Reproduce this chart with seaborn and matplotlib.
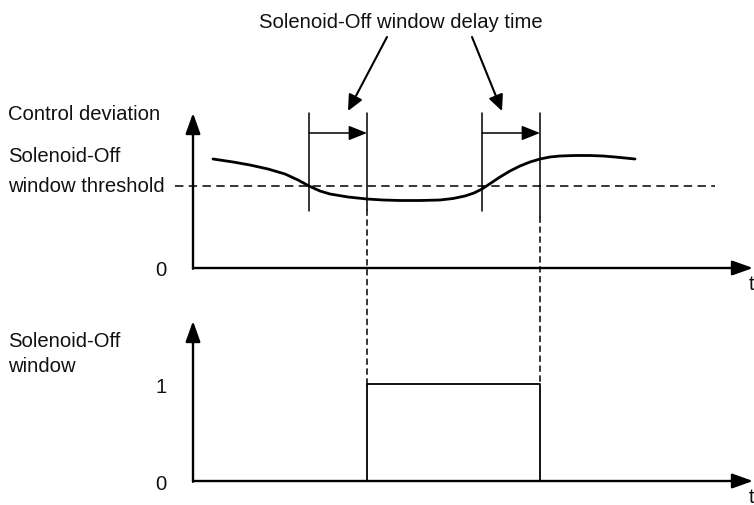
import matplotlib
matplotlib.use("Agg")
import matplotlib.pyplot as plt
from matplotlib.patches import ConnectionPatch
import numpy as np
import pandas as pd
import seaborn as sns

# ---- signal data -----------------------------------------------------------
time = [2.0, 4.0, 5.7, 7.5, 9.2, 10.5, 11.6, 12.7, 13.7, 15.5, 17.4, 19.0, 20.7,
        22.7, 24.7, 26.0, 27.2, 28.1, 28.9, 29.8, 30.7, 31.7, 32.7, 33.7, 34.7,
        35.7, 36.7, 38.2, 39.7, 41.0, 42.2, 43.2, 44.2]
deviation = [10.9, 10.6, 10.3, 9.9, 9.4, 8.8, 8.2, 7.7, 7.4, 7.1, 6.9, 6.8, 6.75,
             6.75, 6.8, 6.95, 7.2, 7.5, 7.9, 8.5, 9.1, 9.7, 10.2, 10.6, 10.9,
             11.1, 11.2, 11.25, 11.25, 11.2, 11.1, 11.0, 10.9]
threshold = 8.2
threshold_span = [-1.8, 52.2]

# threshold crossings and the delayed window edges
crossings = [11.6, 28.9]
delay = 5.8
window_edges = [crossings[0] + delay, crossings[1] + delay]   # on, off
window_state = [0, 1, 1, 0]

t_max = 56.0
top_ylim = 15.5
bottom_ylim = 1.65

W, H = 754, 506


def fig_xy(x, y):
    return x / W, 1 - y / H


sns.set_theme(style="white")
plt.rcParams["font.family"] = ["Liberation Sans", "DejaVu Sans"]
plt.rcParams["text.color"] = "#111111"
plt.rcParams["ytick.color"] = "#111111"
FS = 14.6

fig = plt.figure(figsize=(W / 100, H / 100), dpi=100)
ax_top = fig.add_axes([193 / W, 1 - 269 / H, (753 - 193) / W, (269 - 114) / H])
ax_bot = fig.add_axes([193 / W, 1 - 482 / H, (753 - 193) / W, (482 - 322) / H])

for ax, ymax in ((ax_top, top_ylim), (ax_bot, bottom_ylim)):
    ax.set_xlim(0, t_max)
    ax.set_ylim(0, ymax)
    for s in ax.spines.values():
        s.set_visible(False)
    ax.set_xticks([])
    ax.patch.set_alpha(0)
    arrow = dict(arrowstyle="-|>,head_length=0.7,head_width=0.25", lw=1.7,
                 color="black", shrinkA=0, shrinkB=0, mutation_scale=18)
    ax.annotate("", xy=(t_max, 0), xytext=(0, 0), arrowprops=arrow,
                annotation_clip=False)
    ax.annotate("", xy=(0, ymax), xytext=(0, -0.005 * ymax), arrowprops=arrow,
                annotation_clip=False)
    ax.tick_params(axis="y", length=0, pad=19, labelsize=FS)

ax_top.set_yticks([0])
ax_top.set_yticklabels(["0"])
ax_bot.set_yticks([0, 1])
ax_bot.set_yticklabels(["0", "1"])

# control deviation curve
df = pd.DataFrame({"t": time, "dev": deviation})
sns.lineplot(data=df, x="t", y="dev", ax=ax_top, color="black", lw=2.0,
             sort=False, estimator=None)
ax_top.set_xlabel("")
ax_top.set_ylabel("")

# threshold
ax_top.plot(threshold_span, [threshold, threshold], color="black", lw=1.1,
            dashes=(5.5, 3.5), clip_on=False)

# delay-time markers
marker_top = top_ylim
marker_low = [5.7, 5.8, 5.7, 5.1]
marker_t = [crossings[0], window_edges[0], crossings[1], window_edges[1]]
for t, lo in zip(marker_t, marker_low):
    ax_top.plot([t, t], [lo, marker_top], color="black", lw=1.1, clip_on=False)

delay_arrow = dict(arrowstyle="-|>,head_length=0.7,head_width=0.28", lw=1.1,
                   color="black", shrinkA=0, shrinkB=0, mutation_scale=16)
for start, end in zip(crossings, window_edges):
    ax_top.annotate("", xy=(end, 13.5), xytext=(start, 13.5),
                    arrowprops=delay_arrow, annotation_clip=False)

# window output
pulse = pd.DataFrame({"t": [window_edges[0], window_edges[0], window_edges[1], window_edges[1]],
                      "state": window_state})
sns.lineplot(data=pulse, x="t", y="state", ax=ax_bot, color="black", lw=1.3,
             sort=False, estimator=None)
ax_bot.set_xlabel("")
ax_bot.set_ylabel("")

# dashed guides from the window edges down to the output
for t, lo in zip(window_edges, marker_low[1::2]):
    con = ConnectionPatch(xyA=(t, lo), coordsA=ax_top.transData,
                          xyB=(t, 1), coordsB=ax_bot.transData,
                          color="black", lw=1.1, linestyle=(0, (3.5, 3.0)))
    fig.add_artist(con)

# title with pointers to the delay intervals
fig.text(*fig_xy(401, 23), "Solenoid-Off window delay time", ha="center",
         va="center", fontsize=FS)
ptr = dict(arrowstyle="-|>,head_length=0.6,head_width=0.28", lw=1.5,
           color="black", shrinkA=0, shrinkB=0, mutation_scale=16)
ax_top.annotate("", xy=(15.5, 15.7), xytext=fig_xy(387, 38),
                textcoords="figure fraction", arrowprops=ptr, annotation_clip=False)
ax_top.annotate("", xy=(30.9, 15.7), xytext=fig_xy(472, 38),
                textcoords="figure fraction", arrowprops=ptr, annotation_clip=False)

# axis descriptions
labels = [
    ("Control deviation", 8, 115),
    ("Solenoid-Off", 8, 157),
    ("window threshold", 8, 187),
    ("Solenoid-Off", 8, 342),
    ("window", 8, 366),
    ("t", 749, 284),
    ("t", 749, 498),
]
for txt, x, y in labels:
    fig.text(*fig_xy(x, y), txt, ha="left", va="center", fontsize=FS)

fig.savefig("out.png", dpi=100, facecolor="white")
